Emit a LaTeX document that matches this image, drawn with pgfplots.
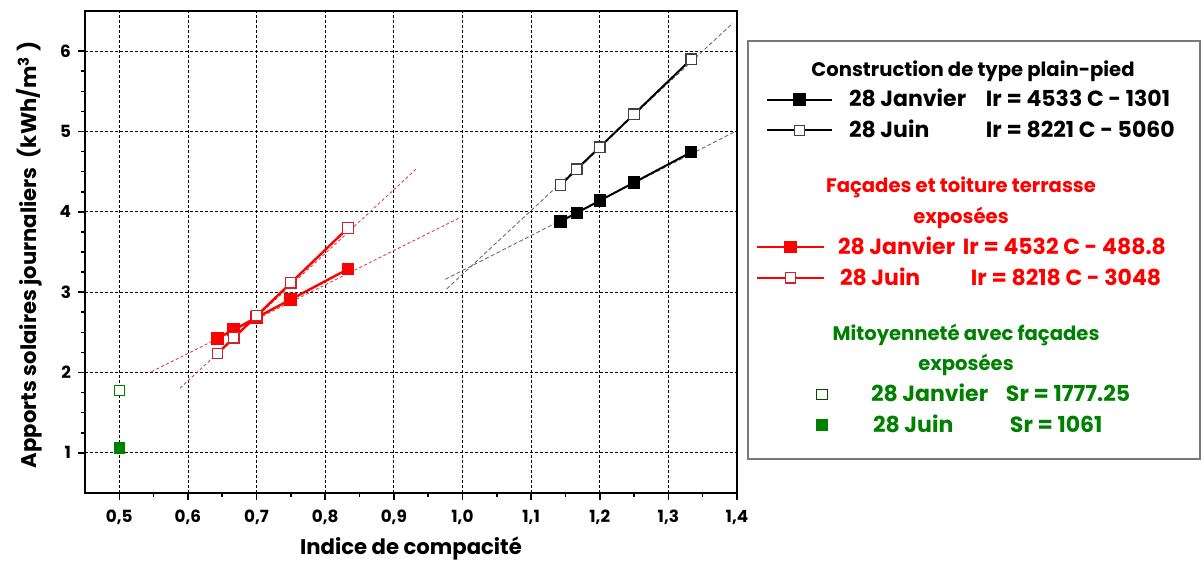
\documentclass[border=0pt]{standalone}
\usepackage{fontspec}
\setmainfont{Poppins}
\usepackage{pgfplots}
\pgfplotsset{compat=1.18}

\definecolor{ptred}{RGB}{255,0,0}
\definecolor{ptredd}{RGB}{205,35,45}
\definecolor{trendred}{RGB}{205,70,90}
\definecolor{trendgray}{RGB}{110,110,110}
\definecolor{ptgreen}{RGB}{0,128,0}
\definecolor{boxgray}{RGB}{120,120,120}

% legend row helpers
\tikzset{
  lrow/.style={text height=11.3pt, text depth=4.1pt},
  lgap/.style={text height=12.1pt, text depth=0pt},
  lend/.style={text height=3pt, text depth=0pt},
}
\newcommand\hdr[2]{\makebox[177pt][l]{\hspace*{#1}\makebox[0pt][c]{\fontsize{9.8}{11}\selectfont #2}}}
\newcommand\ent[4]{\makebox[177pt][l]{\makebox[#3][l]{\hspace*{#1}#2}#4}}

\pgfplotsset{
  keyA/.style={legend image code/.code={\draw[mark repeat=2,mark phase=2,##1] plot coordinates {(5pt,0pt) (21.25pt,0pt) (37.5pt,0pt)};}},
  keyB/.style={legend image code/.code={\draw[mark repeat=2,mark phase=2,##1] plot coordinates {(0pt,0pt) (16.75pt,0pt) (33.5pt,0pt)};}},
  keyC/.style={legend image code/.code={\draw[##1] plot coordinates {(32.5pt,0pt)};}},
}

\begin{document}
\begin{tikzpicture}
\useasboundingbox (0,0) rectangle (602pt,283.5pt);
\begin{axis}[
  at={(42.5pt,37pt)}, anchor=south west,
  scale only axis, width=326pt, height=241pt,
  xmin=0.45, xmax=1.4, ymin=0.5, ymax=6.5,
  xtick={0.5,0.6,0.7,0.8,0.9,1.0,1.1,1.2,1.3,1.4},
  xticklabels={{0,5},{0,6},{0,7},{0,8},{0,9},{1,0},{1,1},{1,2},{1,3},{1,4}},
  ytick={1,2,3,4,5,6},
  yticklabels={1,2,3,4,5,6},
  minor x tick num=1, minor y tick num=3,
  tick align=outside, xtick pos=bottom, ytick pos=left,
  major tick length=3.5pt, minor tick length=2pt,
  every tick/.style={black, line width=0.8pt},
  axis line style={line width=1pt},
  grid=major,
  major grid style={black, line width=0.4pt, dash pattern=on 1.5pt off 1pt},
  ticklabel style={font=\bfseries\fontsize{8.4}{10}\selectfont},
  xticklabel style={yshift=-1.5pt},
  xlabel={Indice de compacité},
  ylabel={Apports solaires journaliers\ \ (kWh/m\textsuperscript{3} )},
  label style={font=\bfseries\fontsize{10.6}{12}\selectfont},
  xlabel style={at={(axis description cs:0.5,-0.116)}, anchor=center},
  ylabel style={at={(axis description cs:-0.085,0.494)}, anchor=center},
  legend cell align=left,
  legend style={
    at={(axis description cs:1.01534,0.93983)}, anchor=north west,
    draw=boxgray, line width=0.8pt, fill=white,
    inner xsep=4pt, inner ysep=6.3pt,
    row sep=0pt, column sep=2.5pt,
    /tikz/every even column/.style={},
    nodes={inner sep=0pt},
    font=\bfseries\fontsize{11}{13}\selectfont,
  },
]
% fitted lines, plain-pied
\addplot[forget plot, trendgray, line width=0.45pt, dash pattern=on 2pt off 1.2pt] coordinates {(0.9748,3.160) (1.395,4.989)};
\addplot[forget plot, trendgray, line width=0.45pt, dash pattern=on 2pt off 1.2pt] coordinates {(0.977,3.04) (1.394,6.35)};
% fitted lines, facades et toiture
\addplot[forget plot, trendred, line width=0.45pt, dash pattern=on 1.5pt off 1.2pt] coordinates {(0.547,2.011) (0.994,3.919)};
\addplot[forget plot, trendred, line width=0.45pt, dash pattern=on 1.5pt off 1.2pt] coordinates {(0.5885,1.805) (0.9335,4.541)};

% plain-pied
\addplot[forget plot, black, line width=1pt, mark=square*, mark size=2.6pt,
  mark options={solid, fill=black}] coordinates {
  (1.1429,3.880) (1.1667,3.988) (1.2,4.139) (1.25,4.365) (1.3333,4.743)};
\addplot[forget plot, black, line width=1pt, mark=square*, mark size=2.6pt,
  mark options={solid, fill=white, draw=black!75, line width=0.6pt}] coordinates {
  (1.1429,4.335) (1.1667,4.531) (1.2,4.805) (1.25,5.216) (1.3333,5.901)};

% facades et toiture terrasse exposees
\addplot[forget plot, ptred, line width=1.2pt, mark=square*, mark size=2.6pt,
  mark options={solid, fill=ptred}] coordinates {
  (0.6429,2.425) (0.6667,2.533) (0.7,2.684) (0.75,2.910) (0.8333,3.288)};
\addplot[forget plot, ptred, line width=1.2pt, mark=square*, mark size=2.6pt,
  mark options={solid, fill=white, draw=ptredd, line width=0.6pt}] coordinates {
  (0.6429,2.235) (0.6667,2.431) (0.7,2.705) (0.75,3.116) (0.8333,3.800)};

% mitoyennete
\addplot[forget plot, only marks, mark=square*, mark size=2.6pt,
  mark options={fill=white, draw=ptgreen, line width=0.6pt}] coordinates {(0.5,1.777)};
\addplot[forget plot, only marks, mark=square*, mark size=2.6pt,
  mark options={fill=ptgreen, draw=ptgreen}] coordinates {(0.5,1.061)};

% legend
\addlegendimage{empty legend}
\addlegendentry[lrow]{\hdr{67.5pt}{Construction de type plain-pied}}
\addlegendimage{keyA, black, line width=1pt, mark=square*, mark size=2.6pt, mark options={fill=black}}
\addlegendentry[lrow]{\ent{5.5pt}{28 Janvier}{74pt}{Ir = 4533 C - 1301}}
\addlegendimage{keyA, black, line width=1pt, mark=square*, mark size=2.6pt, mark options={fill=white, draw=black!75, line width=0.6pt}}
\addlegendentry[lrow]{\ent{5.5pt}{28 Juin}{74pt}{Ir = 8221 C - 5060}}
\addlegendimage{empty legend}
\addlegendentry[lgap]{}
\addlegendimage{empty legend}
\addlegendentry[lrow, text=ptred]{\hdr{61.5pt}{Façades et toiture terrasse}}
\addlegendimage{empty legend}
\addlegendentry[lrow, text=ptred]{\hdr{61.5pt}{exposées}}
\addlegendimage{keyB, ptred, line width=1.2pt, mark=square*, mark size=2.6pt, mark options={fill=ptred}}
\addlegendentry[lrow, text=ptred]{\ent{0pt}{28 Janvier}{62.5pt}{Ir = 4532 C - 488.8}}
\addlegendimage{keyB, ptred, line width=1.2pt, mark=square*, mark size=2.6pt, mark options={fill=white, draw=ptredd, line width=0.6pt}}
\addlegendentry[lrow, text=ptred]{\ent{1pt}{28 Juin}{66.5pt}{Ir = 8218 C - 3048}}
\addlegendimage{empty legend}
\addlegendentry[lgap]{}
\addlegendimage{empty legend}
\addlegendentry[lrow, text=ptgreen]{\hdr{64pt}{Mitoyenneté avec façades}}
\addlegendimage{empty legend}
\addlegendentry[lrow, text=ptgreen]{\hdr{64pt}{exposées}}
\addlegendimage{keyC, only marks, mark=square*, mark size=2.6pt, mark options={fill=white, draw=ptgreen!60!black, line width=0.6pt}}
\addlegendentry[lrow, text=ptgreen]{\ent{16.5pt}{28 Janvier}{84pt}{Sr = 1777.25}}
\addlegendimage{keyC, only marks, mark=square*, mark size=2.6pt, mark options={fill=ptgreen, draw=ptgreen}}
\addlegendentry[lrow, text=ptgreen]{\ent{17.5pt}{28 Juin}{86pt}{Sr = 1061}}
\addlegendimage{empty legend}
\addlegendentry[lend]{}
\end{axis}
\end{tikzpicture}
\end{document}
